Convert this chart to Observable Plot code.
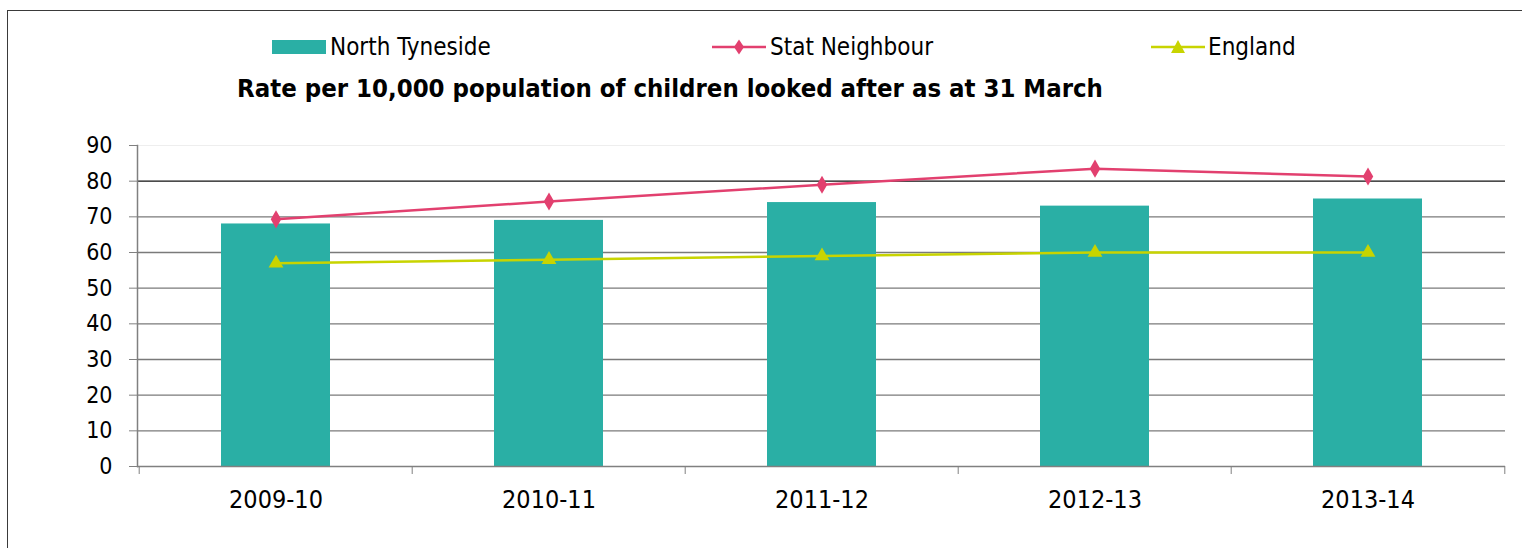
<!DOCTYPE html>
<html>
<head>
<meta charset="utf-8">
<script src="https://cdn.jsdelivr.net/npm/d3@7"></script>
<script src="https://cdn.jsdelivr.net/npm/@observablehq/plot@0.6"></script>
<style>
  html, body { margin: 0; padding: 0; background: #fff; }
  #wrap { position: relative; width: 1522px; height: 548px; overflow: hidden; font-family: "DejaVu Sans Condensed", "DejaVu Sans", sans-serif; color: #000; }
  #border { position: absolute; left: 7px; top: 10px; width: 1530px; height: 560px; border: 1.5px solid #3a3a3a; box-sizing: border-box; }
  .leg { position: absolute; font-size: 24px; line-height: 28px; top: 33px; white-space: nowrap; }
  #title { position: absolute; left: 0; width: 1340px; text-align: center; top: 73px; font-size: 25.5px; line-height: 30px; font-weight: bold; white-space: nowrap; }
  #chart { position: absolute; left: 0; top: 120px; }
  svg.legsym { position: absolute; top: 37px; }
  #chart svg g[aria-label="y-axis tick label"] text { font-size: 23px; }
  #chart svg g[aria-label="x-axis tick label"] text { font-size: 25px; }
</style>
</head>
<body>
<div id="wrap">
  <div id="border"></div>
  <svg class="legsym" style="left:272px" width="56" height="20"><rect x="0" y="3" width="54" height="14" fill="#2AAFA5"></rect></svg>
  <div class="leg" style="left:330px">North Tyneside</div>
  <svg class="legsym" style="left:712px" width="56" height="20"><line x1="0" x2="54" y1="10" y2="10" stroke="#E2406F" stroke-width="2.5"></line><path d="M27,2.5L32,10L27,17.5L22,10Z" fill="#E2406F"></path></svg>
  <div class="leg" style="left:770px">Stat Neighbour</div>
  <svg class="legsym" style="left:1151px" width="56" height="20"><line x1="0" x2="54" y1="10" y2="10" stroke="#C8D400" stroke-width="2.5"></line><path d="M27,3L34,16L20,16Z" fill="#C8D400"></path></svg>
  <div class="leg" style="left:1208px">England</div>
  <div id="title">Rate per 10,000 population of children looked after as at 31 March</div>
  <div id="chart"></div>
</div>
<script>
const categories = ["2009-10", "2010-11", "2011-12", "2012-13", "2013-14"];
const northTyneside = [68, 69, 74, 73, 75];
const statNeighbour = [69.3, 74.3, 79, 83.5, 81.3];
const england = [57, 58, 59, 60, 60];
const yTicks = [0, 10, 20, 30, 40, 50, 60, 70, 80, 90];
const gridValues = [10, 20, 30, 40, 50, 60, 70, 80];

const table = categories.map((c, i) => ({cat: c, nt: northTyneside[i], sn: statNeighbour[i], en: england[i]}));

const W = 1522, ML = 137, MR = 17;
const bw = (W - ML - MR) / categories.length;

const chart = Plot.plot({
  width: W,
  height: 428,
  marginTop: 25,
  marginBottom: 82,
  marginLeft: ML,
  marginRight: MR,
  style: {fontFamily: "'DejaVu Sans Condensed', 'DejaVu Sans', sans-serif", fontSize: "22px", color: "#000", background: "transparent", overflow: "visible"},
  x: {type: "band", domain: categories, padding: 0},
  y: {domain: [0, 90]},
  marks: [
    Plot.ruleY(gridValues, {stroke: d => d === 80 ? "#111" : "#7a7a7a", strokeWidth: 1.3}),
    Plot.ruleY([90], {stroke: "#eee", strokeWidth: 1}),
    Plot.barY(table, {x: "cat", y: "nt", fill: "#2AAFA5", insetLeft: 82, insetRight: 82}),
    Plot.ruleY([0], {stroke: "#808080", strokeWidth: 1.5}),
    Plot.frame({anchor: "left", stroke: "#808080", strokeWidth: 1.5}),
    Plot.axisY({ticks: yTicks, tickSize: 8, tickPadding: 17, stroke: "#808080", fill: "#000", label: null, fontSize: 23}),
    Plot.axisX({tickSize: 0, tickPadding: 24, fill: "#000", label: null, fontSize: 25}),
    Plot.axisX({tickSize: 8, tickFormat: () => "", dx: -bw / 2, stroke: "#808080", label: null}),
    Plot.axisX({ticks: [categories[categories.length - 1]], tickSize: 8, tickFormat: () => "", dx: bw / 2, stroke: "#808080", label: null}),
    Plot.line(table, {x: "cat", y: "sn", stroke: "#E2406F", strokeWidth: 2.5}),
    Plot.dot(table, {x: "cat", y: "sn", symbol: "diamond", r: 5.5, fill: "#E2406F", stroke: "none"}),
    Plot.line(table, {x: "cat", y: "en", stroke: "#C8D400", strokeWidth: 2.5}),
    Plot.dot(table, {x: "cat", y: "en", symbol: "triangle", r: 5.5, fill: "#C8D400", stroke: "none"})
  ]
});
document.getElementById("chart").appendChild(chart);
</script>
</body>
</html>
